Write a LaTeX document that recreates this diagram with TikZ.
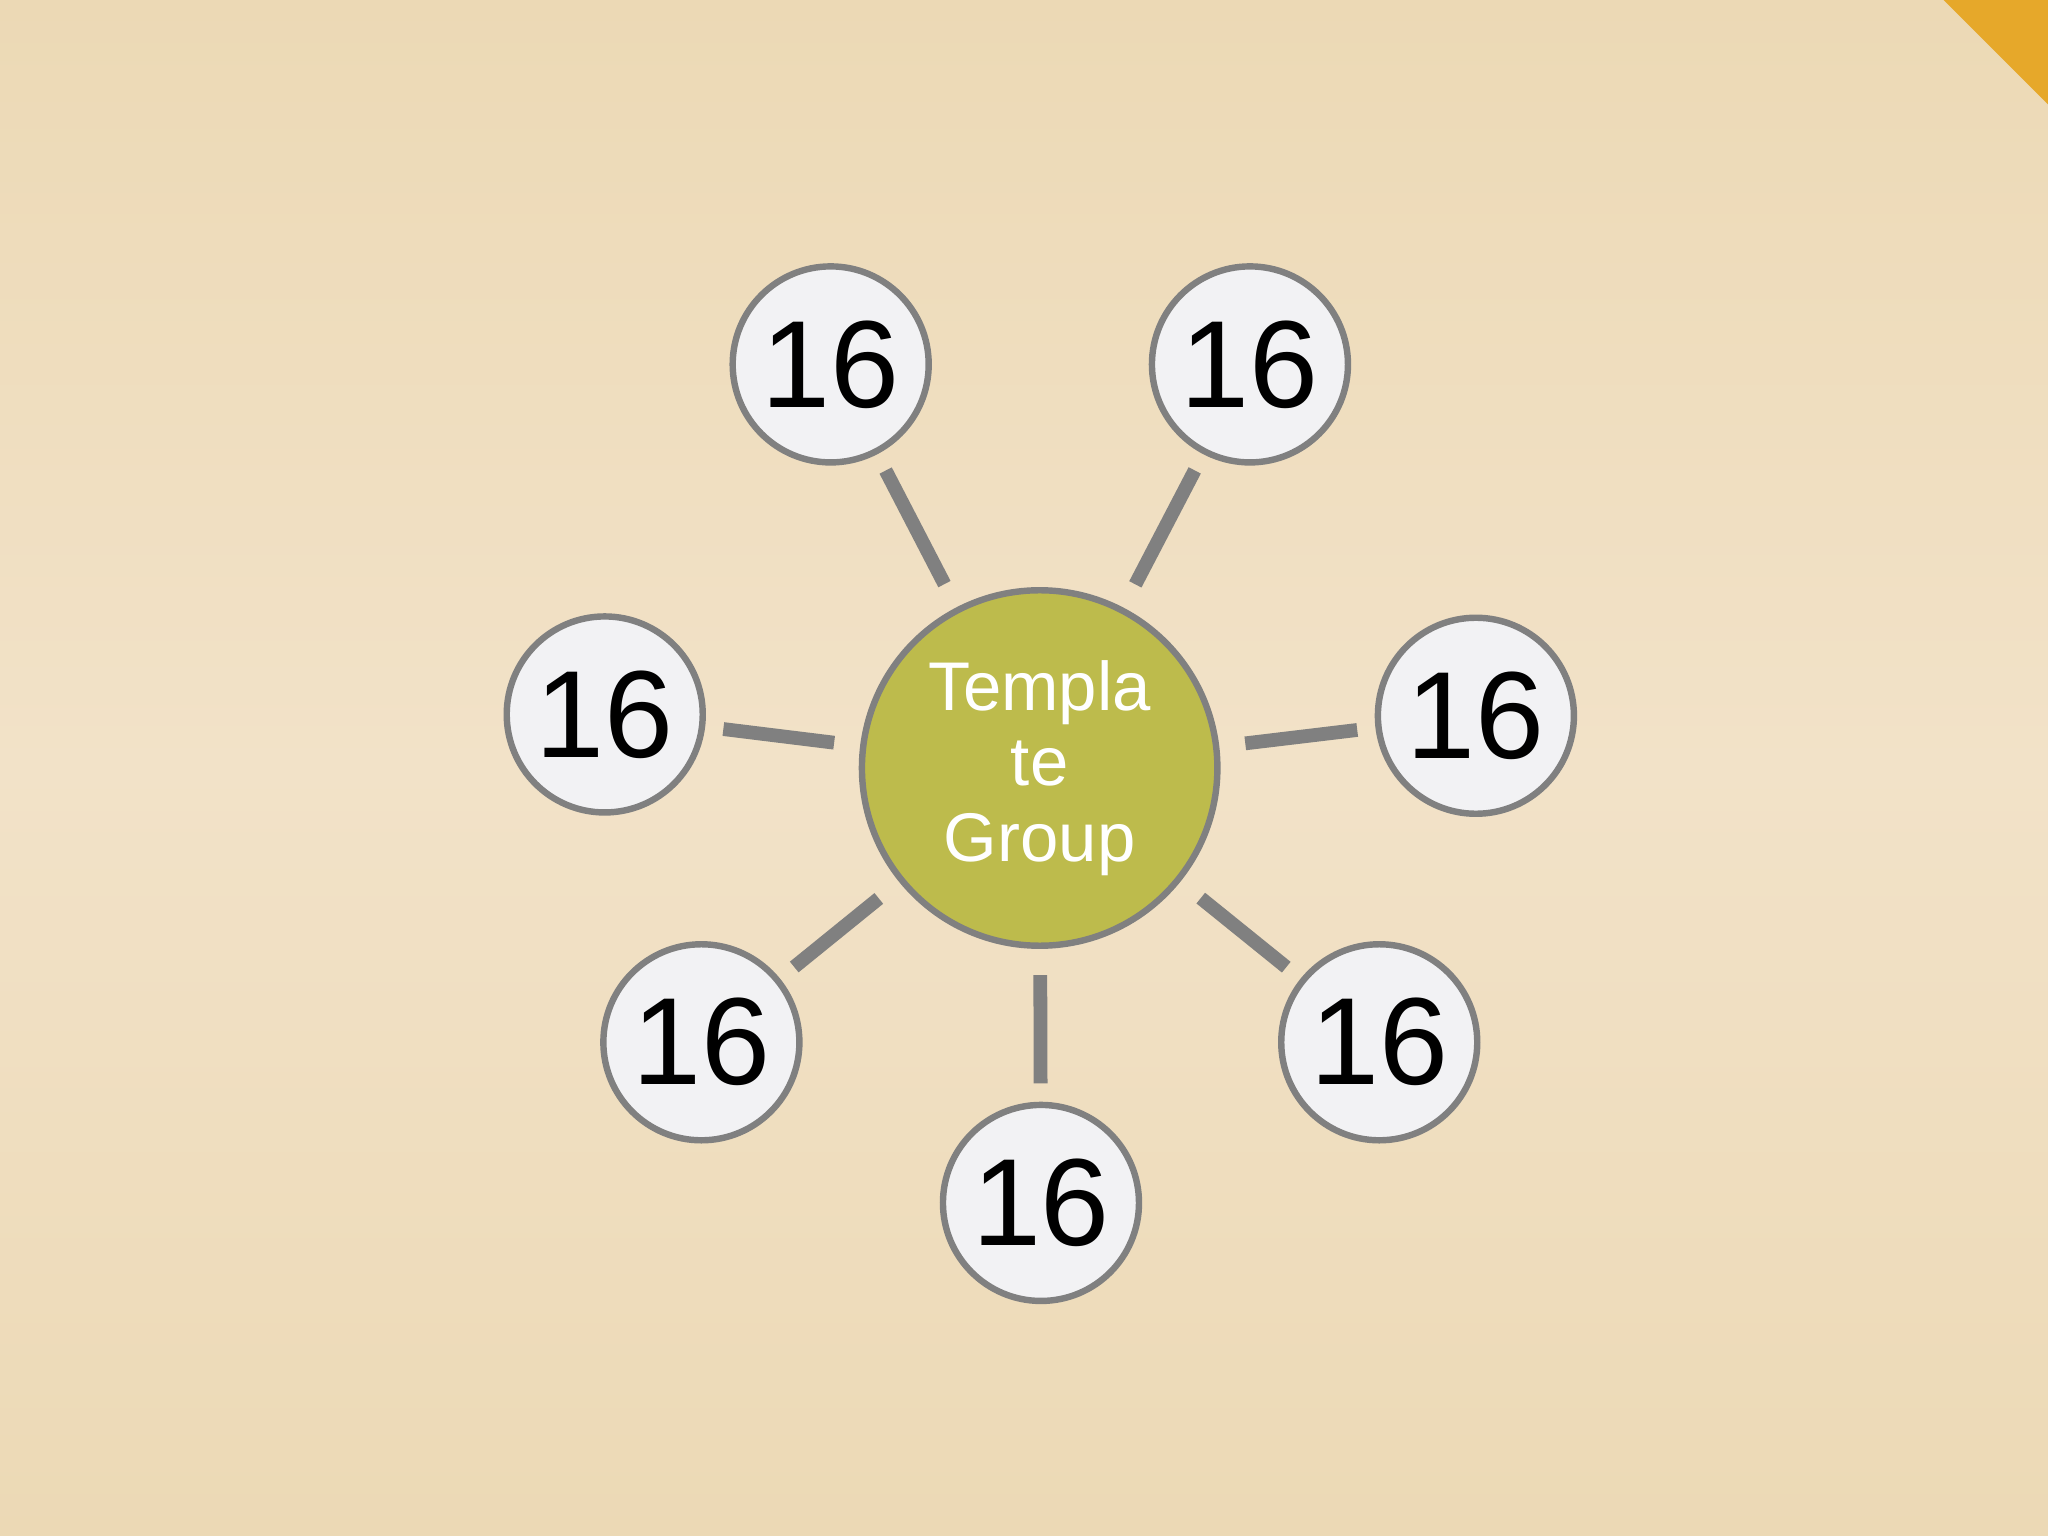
\documentclass[tikz,border=0pt]{standalone}
\usepackage{fontspec}
\setmainfont{Liberation Sans}
\definecolor{bgA}{HTML}{ECD9B5}
\definecolor{bgB}{HTML}{F2E2C8}
\definecolor{hub}{HTML}{BDBB4C}
\definecolor{ring}{HTML}{808080}
\definecolor{leaf}{HTML}{F2F2F4}
\definecolor{corner}{HTML}{E6A82A}
\begin{document}
\begin{tikzpicture}[x=0.01cm,y=-0.01cm,
  leafnode/.style={circle,draw=ring,line width=1.4pt,fill=leaf,minimum size=1.5cm,inner sep=0,font=\fontsize{27}{30}\selectfont},
  hubnode/.style={circle,draw=ring,line width=1.4pt,fill=hub,minimum size=2.72cm,inner sep=0,text=white,align=center,font=\fontsize{15}{16.5}\selectfont},
  link/.style={draw=ring,line width=3pt,shorten <=0.2cm,shorten >=0.14cm}]
\fill[top color=bgA,bottom color=bgA,middle color=bgB] (0,0) rectangle (1568,1176);
\useasboundingbox (0,0) rectangle (1568,1176);
\fill[corner] (1488,0) -- (1568,0) -- (1568,80) -- cycle;
\node[hubnode] (h) at (796,588) {Templa\\te\\Group};
\node[leafnode] (a) at (636,279) {16};
\node[leafnode] (b) at (957,279) {16};
\node[leafnode] (c) at (463,547) {16};
\node[leafnode] (d) at (1130,548) {16};
\node[leafnode] (e) at (537,798) {16};
\node[leafnode] (f) at (1056,798) {16};
\node[leafnode] (g) at (797,921) {16};
\foreach \n in {a,b,c,d,e,f,g} \draw[link] (h) -- (\n);
\end{tikzpicture}
\end{document}
